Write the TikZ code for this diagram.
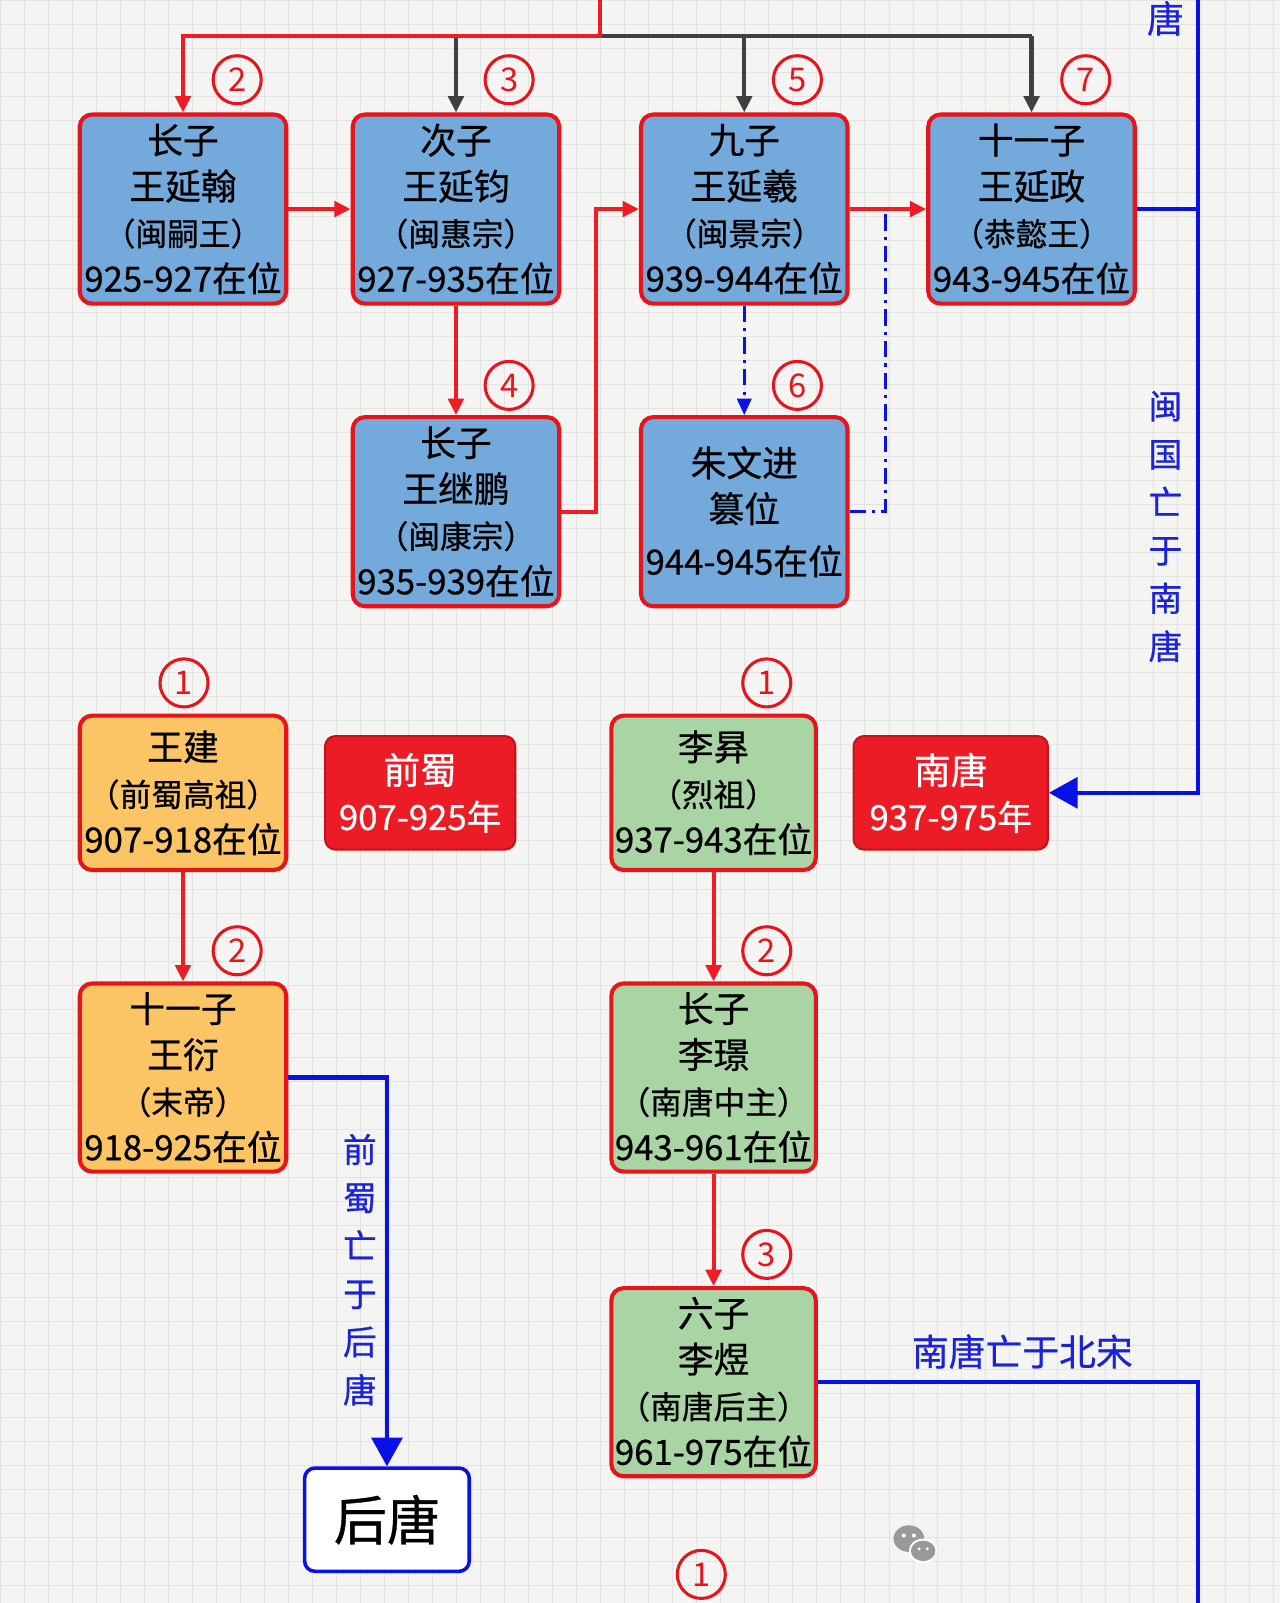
\documentclass[tikz,border=0pt]{standalone}
\usepackage{fontspec}
\setmainfont{Noto Sans CJK SC}[FakeBold=0.6]
\newfontfamily\numfont{Noto Sans CJK SC}
\usetikzlibrary{arrows.meta}
\definecolor{bgc}{HTML}{F4F4F2}
\definecolor{gridc}{HTML}{E3E3E3}
\definecolor{boxred}{HTML}{E8141C}
\definecolor{boxblue}{HTML}{74A9DC}
\definecolor{boxorange}{HTML}{FBC464}
\definecolor{boxgreen}{HTML}{A9D5A5}
\definecolor{perred}{HTML}{EC1C26}
\definecolor{perredd}{HTML}{C8101A}
\definecolor{lnred}{HTML}{EE1C24}
\definecolor{lngrey}{HTML}{404040}
\definecolor{lnblue}{HTML}{0A10E8}
\definecolor{txtblue}{HTML}{1C22D8}
\tikzset{
  kbox/.style={draw=boxred, line width=4pt, rounded corners=12pt, inner sep=0pt, align=center,
    font=\fontsize{35}{45}\selectfont, text=black},
  bluebox/.style={kbox, fill=boxblue, minimum width=202pt, minimum height=185pt},
  orangebox/.style={kbox, fill=boxorange, minimum width=202pt},
  greenbox/.style={kbox, fill=boxgreen, minimum width=200pt},
  perbox/.style={draw=perredd, fill=perred, line width=2pt, rounded corners=10pt, inner sep=0pt,
    align=center, text=white, font=\fontsize{36}{45}\selectfont},
  numc/.style={circle, draw=boxred, line width=3pt, minimum size=47pt, inner sep=0pt, text=boxred,
    font=\numfont\fontsize{32}{32}\selectfont},
  redarr/.style={draw=lnred, line width=4pt, -{Triangle[length=16pt,width=15pt]}},
  redln/.style={draw=lnred, line width=4pt},
  greyarr/.style={draw=lngrey, line width=4pt, -{Triangle[length=16pt,width=15pt]}},
  greyln/.style={draw=lngrey, line width=4pt},
  blueln/.style={draw=lnblue, line width=4pt},
  bluebig/.style={draw=lnblue, line width=4pt, -{Triangle[length=28pt,width=30pt]}},
  bluedd/.style={draw=lnblue, line width=2.5pt, dash pattern=on 16pt off 6pt on 3pt off 6pt},
  vlabel/.style={align=center, text=txtblue, font=\fontsize{33}{47}\selectfont, inner sep=0pt},
  hlabel/.style={text=txtblue, font=\fontsize{36}{40}\selectfont, inner sep=0pt},
}
\newcommand{\pl}[1]{{\fontsize{31}{45}\selectfont #1}}
\newcommand{\yl}[1]{{\fontsize{34}{45}\selectfont #1}}
\begin{document}
\begin{tikzpicture}[x=1pt,y=-1pt]
\useasboundingbox (0,0) rectangle (1252,1568);
\fill[bgc] (0,0) rectangle (1252,1568);
\foreach \i in {0,...,54} {\draw[gridc, line width=0.8pt] (\i*23.5,0) -- (\i*23.5,1568);}
\foreach \j in {0,...,67} {\draw[gridc, line width=0.8pt] (0,\j*23.5) -- (1252,\j*23.5);}

% Min boxes
\node[bluebox] (A) at (179,204.5) {长子\\王延翰\\\pl{（闽嗣王）}\\\yl{925-927在位}};
\node[bluebox] (B) at (446,204.5) {次子\\王延钧\\\pl{（闽惠宗）}\\\yl{927-935在位}};
\node[bluebox] (C) at (728,204.5) {九子\\王延羲\\\pl{（闽景宗）}\\\yl{939-944在位}};
\node[bluebox] (D) at (1009,204.5) {十一子\\王延政\\\pl{（恭懿王）}\\\yl{943-945在位}};
\node[bluebox] (E) at (446,500.5) {长子\\王继鹏\\\pl{（闽康宗）}\\\yl{935-939在位}};
\node[bluebox] (F) at (728,500.5) {朱文进\\篡位\\[6pt]\yl{944-945在位}};

% Former Shu
\node[orangebox, minimum height=151pt] (W1) at (179,775.5) {王建\\\pl{（前蜀高祖）}\\\yl{907-918在位}};
\node[perbox, minimum width=186pt, minimum height=111pt] (R1) at (411,775.5) {前蜀\\\yl{907-925年}};
\node[orangebox, minimum height=184pt] (W2) at (179,1054) {十一子\\王衍\\\pl{（末帝）}\\\yl{918-925在位}};
\node[draw=lnblue, fill=white, line width=3.5pt, rounded corners=10pt, minimum width=161pt, minimum height=101pt,
  inner sep=0pt, font=\fontsize{52}{52}\selectfont] (HT) at (378.5,1486.5) {后唐};

% Southern Tang
\node[greenbox, minimum height=151pt] (L1) at (698,775.5) {李昪\\\pl{（烈祖）}\\\yl{937-943在位}};
\node[perbox, minimum width=190pt, minimum height=111pt] (R2) at (930,775.5) {南唐\\\yl{937-975年}};
\node[greenbox, minimum height=184pt] (L2) at (698,1054) {长子\\李璟\\\pl{（南唐中主）}\\\yl{943-961在位}};
\node[greenbox, minimum height=184pt] (L3) at (698,1352) {六子\\李煜\\\pl{（南唐后主）}\\\yl{961-975在位}};

% number circles
\node[numc] (n2a) at (232,78) {2};
\node[numc] (n3a) at (498,78) {3};
\node[numc] (n5a) at (780,78) {5};
\node[numc] (n7a) at (1062,78) {7};
\node[numc] (n4a) at (498,377) {4};
\node[numc] (n6a) at (780,377) {6};
\node[numc] (n1b) at (180,668) {1};
\node[numc] (n2b) at (232,930) {2};
\node[numc] (n1c) at (750,668) {1};
\node[numc] (n2c) at (750,930) {2};
\node[numc] (n3c) at (750,1227) {3};
\node[numc] (n1d) at (686,1540) {1};

% coordinates
\coordinate (t0) at (587,0);
\coordinate (t1) at (587,35);
\coordinate (cj) at (866,204.5);
\coordinate (rv0) at (1172,0);
\coordinate (bv) at (1172,1568);

% connectors top
\draw[greyln] (t1) -- (D.north |- t1);
\draw[greyarr] (B.north |- t1) -- (B.north);
\draw[greyarr] (C.north |- t1) -- (C.north);
\draw[greyarr] (D.north |- t1) -- (D.north);
\draw[redarr] (t0) -- (t1) -| (A.north);
\draw[redarr] (A) -- (B);
\draw[redarr] (B) -- (E);
\draw[redarr] (E.east) -- ++(34,0) |- (C.west);
\draw[redarr] (C) -- (D);
\draw[bluedd, -{Triangle[length=16pt,width=14pt]}] (C) -- (F);
\draw[bluedd] (F.east) -| (cj);
\draw[blueln] (D.east) -- (D.east -| rv0);
\draw[bluebig] (rv0) |- (R2.east);

% lower connectors
\draw[redarr] (W1) -- (W2);
\draw[bluebig] (W2.east) -| (HT.north);
\draw[redarr] (L1) -- (L2);
\draw[redarr] (L2) -- (L3);
\draw[blueln] (L3.east) -| (bv);

% labels
\node[hlabel] (lt) at (1140,18) {唐};
\node[vlabel] (lmin) at (1140,515) {闽\\国\\亡\\于\\南\\唐};
\node[vlabel] (lshu) at (352,1242) {前\\蜀\\亡\\于\\后\\唐};
\node[hlabel] (ltang) at (1000,1322) {南唐亡于北宋};

% watermark icon
\fill[black!40] (889,1505) ellipse (15pt and 13pt);
\fill[white] (903,1517) ellipse (14pt and 12pt);
\fill[black!40] (903,1517) ellipse (12pt and 10pt);
\fill[white] (884,1502) circle (2pt) (894,1502) circle (2pt) (899,1515) circle (1.6pt) (907,1515) circle (1.6pt);
\end{tikzpicture}
\end{document}
